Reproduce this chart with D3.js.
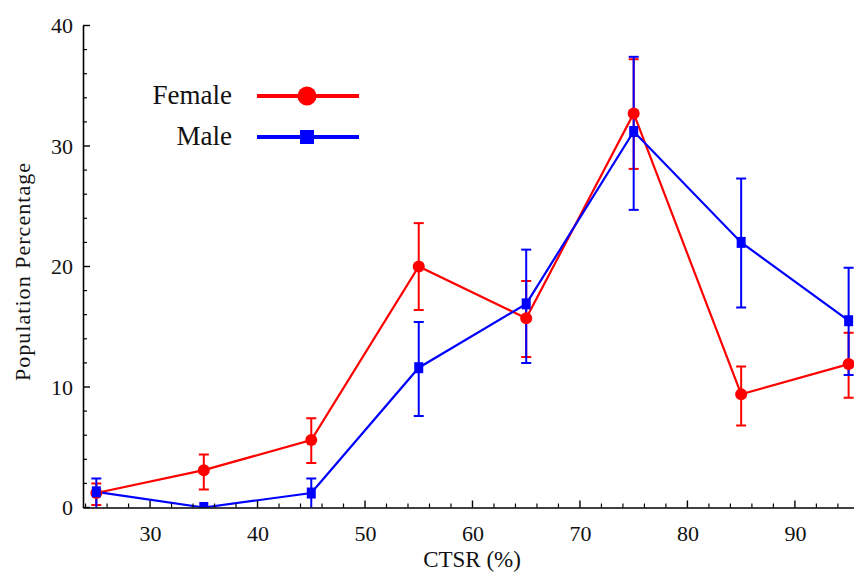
<!DOCTYPE html>
<html>
<head>
<meta charset="utf-8">
<script src="https://cdn.jsdelivr.net/npm/d3@7"></script>
<style>
    body { margin: 0; background: white; }
    svg { display: block; font-family: "Liberation Serif", serif; }
</style>
</head>
<body>
<div id="chart"></div>
<script>
// Data
const ctsr = [25, 35, 45, 55, 65, 75, 85, 95];

const femaleValues = [1.2, 3.1, 5.6, 20.0, 15.7, 32.7, 9.4, 11.9];
const femaleLow = [0.2, 1.5, 3.7, 16.4, 12.5, 28.1, 6.8, 9.1];
const femaleHigh = [2.0, 4.4, 7.4, 23.6, 18.8, 37.2, 11.7, 14.5];

const maleValues = [1.3, 0, 1.2, 11.6, 16.9, 31.2, 22.0, 15.5];
const maleLow = [-0.3, 0, -0.3, 7.6, 12.0, 24.7, 16.6, 11.0];
const maleHigh = [2.4, 0, 2.4, 15.4, 21.4, 37.4, 27.3, 19.9];

const xTicks = [30, 40, 50, 60, 70, 80, 90];
const yTicks = [0, 10, 20, 30, 40];

const width = 854;
const height = 573;

const svg = d3.select("#chart")
    .append("svg")
    .attr("width", width)
    .attr("height", height);

// Scales
const xScale = d3.scaleLinear()
    .domain([23.76, 95.5])
    .range([83, 854]);

const yScale = d3.scaleLinear()
    .domain([0, 40])
    .range([507.5, 25.5]);

// clip the data to the plot area
svg.append("clipPath")
    .attr("id", "plotClip")
    .append("rect")
    .attr("x", 83)
    .attr("y", 0)
    .attr("width", width - 83)
    .attr("height", 507.5);

const plot = svg.append("g").attr("clip-path", "url(#plotClip)");

function makeSeries(values, low, high) {
    return ctsr.map((x, i) => ({ x: x, y: values[i], lo: low[i], hi: high[i] }));
}

const series = [
    { name: "Female", color: "#ff0000", shape: "circle", data: makeSeries(femaleValues, femaleLow, femaleHigh) },
    { name: "Male", color: "#0000ff", shape: "square", data: makeSeries(maleValues, maleLow, maleHigh) }
];

const line = d3.line()
    .x(d => xScale(d.x))
    .y(d => yScale(d.y));

// error bars
series.forEach(s => {
    const g = plot.append("g").attr("stroke", s.color).attr("stroke-width", 2);
    const bars = g.selectAll("g.err")
        .data(s.data.filter(d => d.hi > d.lo))
        .enter()
        .append("g");
    bars.append("line")
        .attr("x1", d => xScale(d.x))
        .attr("x2", d => xScale(d.x))
        .attr("y1", d => yScale(d.lo))
        .attr("y2", d => yScale(d.hi));
    bars.append("line")
        .attr("x1", d => xScale(d.x) - 5)
        .attr("x2", d => xScale(d.x) + 5)
        .attr("y1", d => yScale(d.hi))
        .attr("y2", d => yScale(d.hi));
    bars.append("line")
        .attr("x1", d => xScale(d.x) - 5)
        .attr("x2", d => xScale(d.x) + 5)
        .attr("y1", d => yScale(d.lo))
        .attr("y2", d => yScale(d.lo));
});

// lines
series.forEach(s => {
    plot.append("path")
        .datum(s.data)
        .attr("fill", "none")
        .attr("stroke", s.color)
        .attr("stroke-width", 2.2)
        .attr("d", line);
});

// markers
series.forEach(s => {
    if (s.shape == "circle") {
        plot.selectAll(".c" + s.name)
            .data(s.data)
            .enter()
            .append("circle")
            .attr("cx", d => xScale(d.x))
            .attr("cy", d => yScale(d.y))
            .attr("r", 6)
            .attr("fill", s.color);
    } else {
        plot.selectAll(".s" + s.name)
            .data(s.data)
            .enter()
            .append("rect")
            .attr("x", d => xScale(d.x) - 4.5)
            .attr("y", d => yScale(d.y) - 5.5)
            .attr("width", 9)
            .attr("height", 11)
            .attr("fill", s.color);
    }
});

// Axes, ticks point inward
const xMinor = d3.range(24, 96, 2).filter(v => !xTicks.includes(v));
const yMinor = d3.range(0, 41, 2).filter(v => !yTicks.includes(v));

const xAxis = svg.append("g").attr("transform", "translate(0,507.5)");
xAxis.call(d3.axisBottom(xScale).tickValues(xTicks).tickSize(0).tickPadding(18).tickFormat(d3.format("d")));
xAxis.select(".domain").attr("stroke", "black").attr("stroke-width", 1.6);
xAxis.selectAll("text").attr("font-size", 22).attr("font-family", "Liberation Serif").attr("fill", "#111");
xAxis.selectAll(".major").data(xTicks).enter().append("line")
    .attr("x1", d => xScale(d)).attr("x2", d => xScale(d))
    .attr("y1", 0).attr("y2", -7).attr("stroke", "black").attr("stroke-width", 1.4);
xAxis.selectAll(".minor").data(xMinor).enter().append("line")
    .attr("x1", d => xScale(d)).attr("x2", d => xScale(d))
    .attr("y1", 0).attr("y2", -4).attr("stroke", "black").attr("stroke-width", 1.2);

const yAxis = svg.append("g").attr("transform", "translate(83,0)");
yAxis.call(d3.axisLeft(yScale).tickValues(yTicks).tickSize(0).tickPadding(10).tickFormat(d3.format("d")));
yAxis.select(".domain").attr("stroke", "black").attr("stroke-width", 1.6);
yAxis.selectAll("text").attr("font-size", 22).attr("font-family", "Liberation Serif").attr("fill", "#111");
yAxis.selectAll(".major").data(yTicks).enter().append("line")
    .attr("y1", d => yScale(d)).attr("y2", d => yScale(d))
    .attr("x1", 0).attr("x2", 7).attr("stroke", "black").attr("stroke-width", 1.4);
yAxis.selectAll(".minor").data(yMinor).enter().append("line")
    .attr("y1", d => yScale(d)).attr("y2", d => yScale(d))
    .attr("x1", 0).attr("x2", 4).attr("stroke", "black").attr("stroke-width", 1.2);

// axis titles
svg.append("text")
    .attr("x", 472)
    .attr("y", 567)
    .attr("text-anchor", "middle")
    .attr("font-size", 23)
    .attr("fill", "#111")
    .text("CTSR (%)");

svg.append("text")
    .attr("transform", "translate(30,272) rotate(-90)")
    .attr("text-anchor", "middle")
    .attr("font-size", 22)
    .attr("textLength", 218)
    .attr("fill", "#111")
    .text("Population Percentage");

// legend
const legendY = [96, 137];
series.forEach((s, i) => {
    const y = legendY[i];
    svg.append("text")
        .attr("x", 232)
        .attr("y", y + 8)
        .attr("text-anchor", "end")
        .attr("font-size", 27)
        .attr("fill", "#111")
        .text(s.name);
    svg.append("line")
        .attr("x1", 257).attr("x2", 359)
        .attr("y1", y).attr("y2", y)
        .attr("stroke", s.color)
        .attr("stroke-width", 4);
    if (s.shape == "circle") {
        svg.append("circle").attr("cx", 307).attr("cy", y).attr("r", 9.5).attr("fill", s.color);
    } else {
        svg.append("rect").attr("x", 300).attr("y", y - 7).attr("width", 14).attr("height", 14).attr("fill", s.color);
    }
});
</script>
</body>
</html>
